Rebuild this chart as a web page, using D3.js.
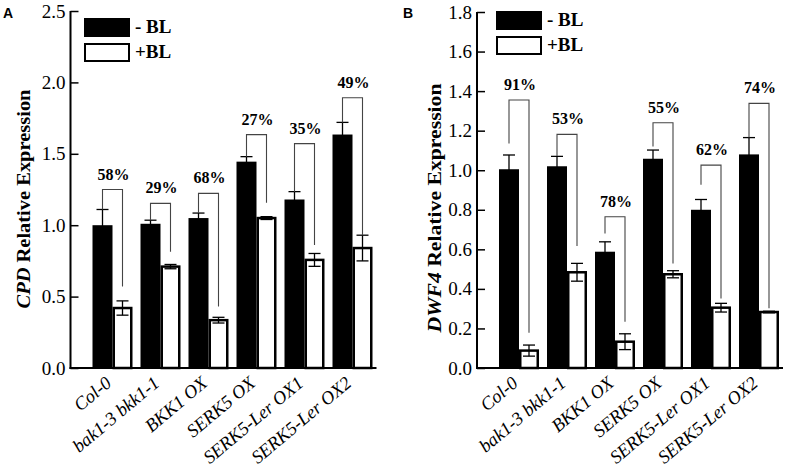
<!DOCTYPE html>
<html><head><meta charset="utf-8">
<script src="https://cdn.jsdelivr.net/npm/d3@7"></script>
<style>body{margin:0;background:#fff}svg{display:block}</style>
</head><body>
<script>
const categories = ["Col-0","bak1-3 bkk1-1","BKK1 OX","SERK5 OX","SERK5-Ler OX1","SERK5-Ler OX2"];
const seriesNames = ["- BL","+BL"];

// Panel A: CPD
const cpdMinusBL     = [1.00, 1.01, 1.05, 1.445, 1.18, 1.635];
const cpdMinusBLErr  = [0.11, 0.025, 0.035, 0.035, 0.055, 0.085];
const cpdPlusBL      = [0.42, 0.71, 0.335, 1.05, 0.757, 0.84];
const cpdPlusBLErr   = [0.05, 0.015, 0.02, 0.01, 0.045, 0.09];
const cpdPercent     = ["58%","29%","68%","27%","35%","49%"];
const cpdBracketTop  = [1.25, 1.153, 1.223, 1.634, 1.571, 1.893];
const cpdBracketLeft = [1.11, 1.035, 1.085, 1.48, 1.235, 1.72];
const cpdBracketRight= [0.57, 0.814, 0.43, 1.158, 0.861, 0.93];
const cpdTicks       = [0.0, 0.5, 1.0, 1.5, 2.0, 2.5];

// Panel B: DWF4
const dwf4MinusBL     = [1.005, 1.02, 0.588, 1.058, 0.80, 1.08];
const dwf4MinusBLErr  = [0.072, 0.05, 0.05, 0.044, 0.052, 0.085];
const dwf4PlusBL      = [0.088, 0.484, 0.133, 0.474, 0.305, 0.283];
const dwf4PlusBLErr   = [0.028, 0.045, 0.04, 0.018, 0.022, 0.004];
const dwf4Percent     = ["91%","53%","78%","55%","62%","74%"];
const dwf4BracketTop  = [1.355, 1.181, 0.765, 1.24, 1.026, 1.338];
const dwf4BracketLeft = [1.135, 1.072, 0.68, 1.12, 0.926, 1.166];
const dwf4BracketRight= [0.178, 0.617, 0.234, 0.529, 0.352, 0.302];
const dwf4Ticks       = [0.0, 0.2, 0.4, 0.6, 0.8, 1.0, 1.2, 1.4, 1.6, 1.8];

const W = 787, H = 470;
const svg = d3.select("body").append("svg").attr("width", W).attr("height", H)
  .style("background", "#fff");
const SERIF = "'Liberation Serif','Times New Roman',serif";
const SANS = "'Liberation Sans',Arial,sans-serif";

function panel(cfg) {
  const g = svg.append("g");
  const x0 = cfg.x0, x1 = cfg.x0 + 306;
  const yBottom = 368;
  const y = d3.scaleLinear().domain([0, cfg.yMax]).range([yBottom, cfg.yTop]);
  const x = d3.scaleBand().domain(categories).range([x0 + 18, x1]).paddingInner(1/6).paddingOuter(1/12);
  const xs = d3.scaleBand().domain(seriesNames).range([0, x.bandwidth()]);

  const rows = categories.map((c, i) => ({
    c, i, m: cfg.minus[i], me: cfg.minusErr[i], p: cfg.plus[i], pe: cfg.plusErr[i],
    pct: cfg.pct[i], bt: cfg.bTop[i], bl: cfg.bLeft[i], br: cfg.bRight[i]
  }));

  g.selectAll(".bm").data(rows).join("rect")
    .attr("x", d => x(d.c) + xs(seriesNames[0]))
    .attr("width", xs.bandwidth())
    .attr("y", d => y(d.m)).attr("height", d => y(0) - y(d.m))
    .attr("fill", "#000");
  g.selectAll(".bp").data(rows).join("rect")
    .attr("x", d => x(d.c) + xs(seriesNames[1]) + 1.25)
    .attr("width", xs.bandwidth() - 2.5)
    .attr("y", d => y(d.p)).attr("height", d => y(0) - y(d.p))
    .attr("fill", "#fff").attr("stroke", "#000").attr("stroke-width", 2.5);

  function err(key, eKey, s) {
    const cx = d => x(d.c) + xs(s) + xs.bandwidth() / 2;
    const eg = g.selectAll(null).data(rows).join("g").attr("stroke", "#000").attr("stroke-width", 1.3);
    eg.append("line").attr("x1", cx).attr("x2", cx)
      .attr("y1", d => y(d[key] - d[eKey])).attr("y2", d => y(d[key] + d[eKey]));
    [1, -1].forEach(sg => {
      eg.append("line").attr("x1", d => cx(d) - 6).attr("x2", d => cx(d) + 6)
        .attr("y1", d => y(d[key] + sg * d[eKey])).attr("y2", d => y(d[key] + sg * d[eKey]));
    });
  }
  err("m", "me", seriesNames[0]);
  err("p", "pe", seriesNames[1]);

  const lx = d => x(d.c) + xs(seriesNames[0]) + xs.bandwidth() / 2;
  const rx = d => x(d.c) + xs(seriesNames[1]) + xs.bandwidth() / 2;
  g.selectAll(".br").data(rows).join("path")
    .attr("d", d => `M${lx(d)},${y(d.bl)}V${y(d.bt)}H${rx(d)}V${y(d.br)}`)
    .attr("fill", "none").attr("stroke", "#444").attr("stroke-width", 1.1);
  g.selectAll(".pct").data(rows).join("text")
    .attr("x", d => (lx(d) + rx(d)) / 2 + 1).attr("y", d => y(d.bt) - 10)
    .attr("text-anchor", "middle").attr("font-family", SERIF).attr("font-weight", "bold")
    .attr("font-size", 16).text(d => d.pct);

  const ya = g.append("g").attr("transform", `translate(${x0},0)`)
    .call(d3.axisRight(y).tickValues(cfg.ticks).tickSize(8).tickFormat(d3.format(".1f")));
  ya.select(".domain").remove();
  ya.selectAll(".tick line").attr("stroke", "#000").attr("stroke-width", 1.5);
  ya.selectAll(".tick text").attr("x", -5).attr("text-anchor", "end")
    .attr("font-family", SERIF).attr("font-size", 19).attr("fill", "#000");
  g.append("line").attr("x1", x0).attr("x2", x0).attr("y1", y(cfg.yMax)).attr("y2", yBottom + 1)
    .attr("stroke", "#000").attr("stroke-width", 2);
  const xa = g.append("g").attr("transform", `translate(0,${yBottom})`)
    .call(d3.axisBottom(x).tickSize(0).tickFormat(""));
  xa.select(".domain").remove();
  g.append("line").attr("x1", x0 - 1).attr("x2", x1).attr("y1", yBottom).attr("y2", yBottom)
    .attr("stroke", "#000").attr("stroke-width", 2);
  g.selectAll(".xl").data(rows).join("text")
    .attr("transform", d => `translate(${x(d.c) + x.bandwidth() / 2},${yBottom + 17}) rotate(-40)`)
    .attr("text-anchor", "end").attr("font-family", SERIF).attr("font-style", "italic")
    .attr("font-size", 18.5).text(d => d.c);

  const t = g.append("text")
    .attr("transform", `translate(${cfg.titleX},${cfg.titleY}) rotate(-90)`)
    .attr("text-anchor", "middle").attr("font-family", SERIF).attr("font-weight", "bold")
    .attr("font-size", 19).attr("textLength", cfg.titleLen).attr("lengthAdjust", "spacingAndGlyphs");
  t.append("tspan").attr("font-style", "italic").text(cfg.gene);
  t.append("tspan").text(" Relative Expression");

  const leg = g.append("g");
  const lg = [ { name: seriesNames[0], fill: "#000", y: cfg.legY }, { name: seriesNames[1], fill: "#fff", y: cfg.legY + 25 } ];
  leg.selectAll("rect").data(lg).join("rect")
    .attr("x", cfg.legX).attr("y", d => d.y).attr("width", 44).attr("height", 17)
    .attr("fill", d => d.fill).attr("stroke", "#000").attr("stroke-width", 2);
  leg.selectAll("text").data(lg).join("text")
    .attr("x", cfg.legX + 50).attr("y", d => d.y + 14)
    .attr("font-family", SERIF).attr("font-weight", "bold").attr("font-size", 19).text(d => d.name);

  g.append("text").attr("x", cfg.letterX).attr("y", 18).attr("font-family", SANS)
    .attr("font-weight", "bold").attr("font-size", 14).text(cfg.letter);
}

panel({ x0: 70.5, yMax: 2.5, yTop: 11, ticks: cpdTicks, minus: cpdMinusBL, minusErr: cpdMinusBLErr,
  plus: cpdPlusBL, plusErr: cpdPlusBLErr, pct: cpdPercent, bTop: cpdBracketTop, bLeft: cpdBracketLeft,
  bRight: cpdBracketRight, gene: "CPD", titleX: 30, titleY: 199, titleLen: 219, legX: 85, legY: 19, letter: "A", letterX: 3 });
panel({ x0: 477, yMax: 1.8, yTop: 12, ticks: dwf4Ticks, minus: dwf4MinusBL, minusErr: dwf4MinusBLErr,
  plus: dwf4PlusBL, plusErr: dwf4PlusBLErr, pct: dwf4Percent, bTop: dwf4BracketTop, bLeft: dwf4BracketLeft,
  bRight: dwf4BracketRight, gene: "DWF4", titleX: 441, titleY: 208, titleLen: 249, legX: 497, legY: 12, letter: "B", letterX: 403 });
</script>
</body></html>
